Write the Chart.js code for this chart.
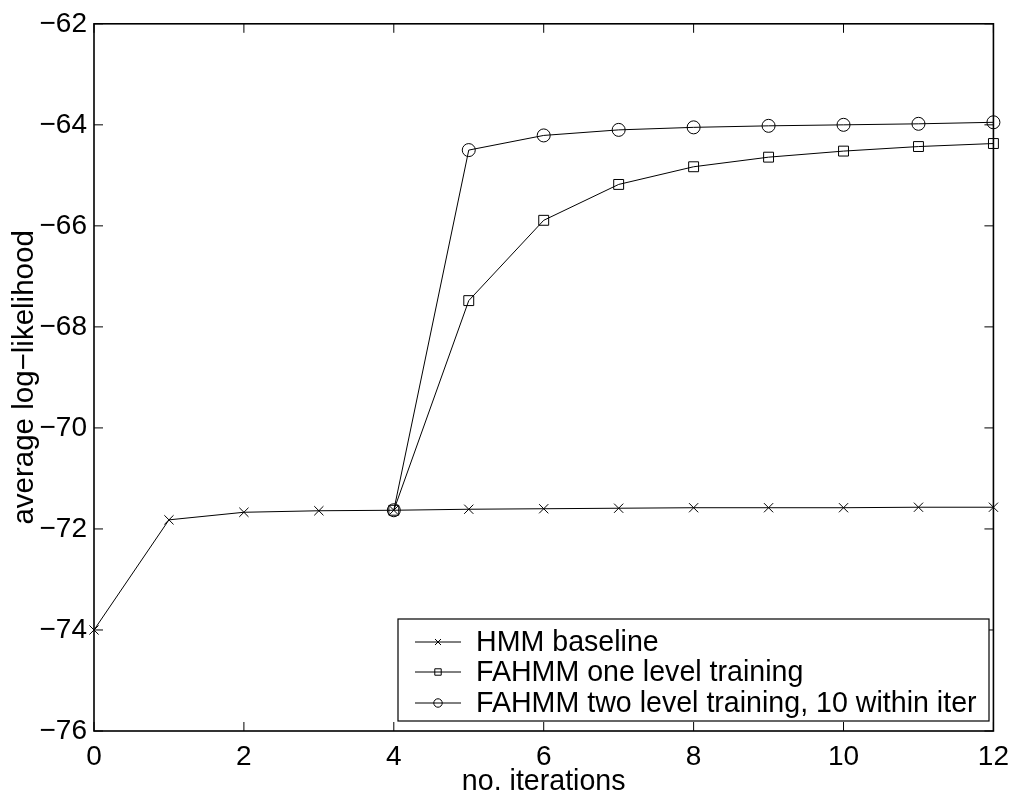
<!DOCTYPE html>
<html lang="en">
<head>
    <meta charset="UTF-8">
    <title>average log-likelihood vs iterations</title>
    <style>
        html, body {
            margin: 0;
            padding: 0;
            background: #fff;
        }
        #wrap {
            position: relative;
            width: 1018px;
            height: 796px;
        }
    </style>
</head>
<body>
    <div id="wrap">
        <canvas id="llChart" width="1018" height="796"></canvas>
    </div>

    <script src="https://cdn.jsdelivr.net/npm/chart.js"></script>
    <script>
        // Data
        const iterations = [0, 1, 2, 3, 4, 5, 6, 7, 8, 9, 10, 11, 12];
        const hmmBaseline = [-74.0, -71.82, -71.67, -71.64, -71.63, -71.61, -71.60, -71.59, -71.58, -71.58, -71.58, -71.57, -71.57];
        const fahmmIters = [4, 5, 6, 7, 8, 9, 10, 11, 12];
        const fahmmOneLevel = [-71.63, -67.48, -65.89, -65.18, -64.83, -64.64, -64.52, -64.43, -64.37];
        const fahmmTwoLevel = [-71.63, -64.50, -64.21, -64.10, -64.05, -64.02, -64.00, -63.98, -63.95];

        const seriesLabels = ['HMM baseline', 'FAHMM one level training', 'FAHMM two level training, 10 within iter'];
        const xTicks = [0, 2, 4, 6, 8, 10, 12];
        const yTicks = [-76, -74, -72, -70, -68, -66, -64, -62];

        const FONT = '"Liberation Sans", Arial, Helvetica, sans-serif';

        function toPoints(xs, ys) {
            return xs.map((x, i) => ({ x: x, y: ys[i] }));
        }

        function makeDataset(label, data, style, radius) {
            return {
                label: label,
                data: data,
                borderColor: '#000',
                borderWidth: 1,
                pointStyle: style,
                pointRadius: radius,
                pointBorderColor: '#000',
                pointBackgroundColor: 'rgba(0,0,0,0)',
                pointBorderWidth: 1,
                fill: false,
                tension: 0,
                clip: false
            };
        }

        const datasets = [
            makeDataset(seriesLabels[0], toPoints(iterations, hmmBaseline), 'crossRot', 6.5),
            makeDataset(seriesLabels[1], toPoints(fahmmIters, fahmmOneLevel), 'rect', 7),
            makeDataset(seriesLabels[2], toPoints(fahmmIters, fahmmTwoLevel), 'circle', 6.5)
        ];

        // box round the plot with inward ticks on all four sides
        const frameBox = {
            id: 'frameBox',
            afterDraw(chart) {
                const { ctx, chartArea: a, scales } = chart;
                const tl = 9;
                ctx.save();
                ctx.strokeStyle = '#000';
                ctx.lineWidth = 1;
                ctx.beginPath();
                xTicks.forEach(v => {
                    const px = scales.x.getPixelForValue(v);
                    ctx.moveTo(px, a.bottom); ctx.lineTo(px, a.bottom - tl);
                    ctx.moveTo(px, a.top); ctx.lineTo(px, a.top + tl);
                });
                yTicks.forEach(v => {
                    const py = scales.y.getPixelForValue(v);
                    ctx.moveTo(a.left, py); ctx.lineTo(a.left + tl, py);
                    ctx.moveTo(a.right, py); ctx.lineTo(a.right - tl, py);
                });
                ctx.stroke();
                ctx.lineWidth = 1.6;
                ctx.strokeRect(a.left, a.top, a.right - a.left, a.bottom - a.top);
                ctx.restore();
            }
        };

        // legend drawn inside the plot, lower right (smaller markers, as in the original)
        const insideLegend = {
            id: 'insideLegend',
            afterDraw(chart) {
                const { ctx } = chart;
                const box = { left: 398, top: 619, right: 989, bottom: 721 };
                const rowY = [642, 672, 703];
                ctx.save();
                ctx.fillStyle = '#fff';
                ctx.fillRect(box.left, box.top, box.right - box.left, box.bottom - box.top);
                ctx.strokeStyle = '#000';
                ctx.lineWidth = 1.2;
                ctx.strokeRect(box.left, box.top, box.right - box.left, box.bottom - box.top);
                ctx.font = '28.6px ' + FONT;
                ctx.textBaseline = 'middle';
                ctx.textAlign = 'left';
                chart.data.datasets.forEach((ds, i) => {
                    const y = rowY[i];
                    ctx.lineWidth = 1;
                    ctx.strokeStyle = '#000';
                    ctx.beginPath();
                    ctx.moveTo(415, y);
                    ctx.lineTo(461, y);
                    ctx.stroke();
                    ctx.fillStyle = 'rgba(0,0,0,0)';
                    Chart.helpers.drawPoint(ctx, {
                        pointStyle: ds.pointStyle,
                        radius: ds.pointRadius * 0.65,
                        borderWidth: 1,
                        rotation: 0
                    }, 438, y);
                    ctx.fillStyle = '#000';
                    ctx.fillText(ds.label, 476, y + 1);
                });
                ctx.restore();
            }
        };

        new Chart(document.getElementById('llChart'), {
            type: 'line',
            data: { datasets: datasets },
            options: {
                responsive: false,
                animation: false,
                events: [],
                layout: { padding: { left: 0, top: 17, right: 19, bottom: 0 } },
                plugins: {
                    legend: { display: false },
                    tooltip: { enabled: false }
                },
                scales: {
                    x: {
                        type: 'linear',
                        min: 0,
                        max: 12,
                        grid: { display: false, drawTicks: false },
                        border: { display: false },
                        afterBuildTicks: s => { s.ticks = xTicks.map(v => ({ value: v })); },
                        afterFit: s => { s.height = 65; },
                        ticks: {
                            autoSkip: false,
                            maxRotation: 0,
                            padding: 9,
                            color: '#000',
                            font: { family: FONT, size: 28 }
                        },
                        title: {
                            display: true,
                            text: 'no. iterations',
                            color: '#000',
                            font: { family: FONT, size: 28.6, lineHeight: 1 },
                            padding: { top: 0, bottom: 0 }
                        }
                    },
                    y: {
                        type: 'linear',
                        min: -76,
                        max: -62,
                        grid: { display: false, drawTicks: false },
                        border: { display: false },
                        afterBuildTicks: s => { s.ticks = yTicks.map(v => ({ value: v })); },
                        afterFit: s => { s.width = 94; },
                        ticks: {
                            autoSkip: false,
                            padding: 7,
                            color: '#000',
                            font: { family: FONT, size: 28 },
                            callback: v => String(v).replace('-', '\u2212')
                        },
                        title: {
                            display: true,
                            text: 'average log\u2212likelihood',
                            color: '#000',
                            font: { family: FONT, size: 29.5, lineHeight: 1 },
                            padding: { top: 10, bottom: 0 }
                        }
                    }
                }
            },
            plugins: [frameBox, insideLegend]
        });
    </script>
</body>
</html>
